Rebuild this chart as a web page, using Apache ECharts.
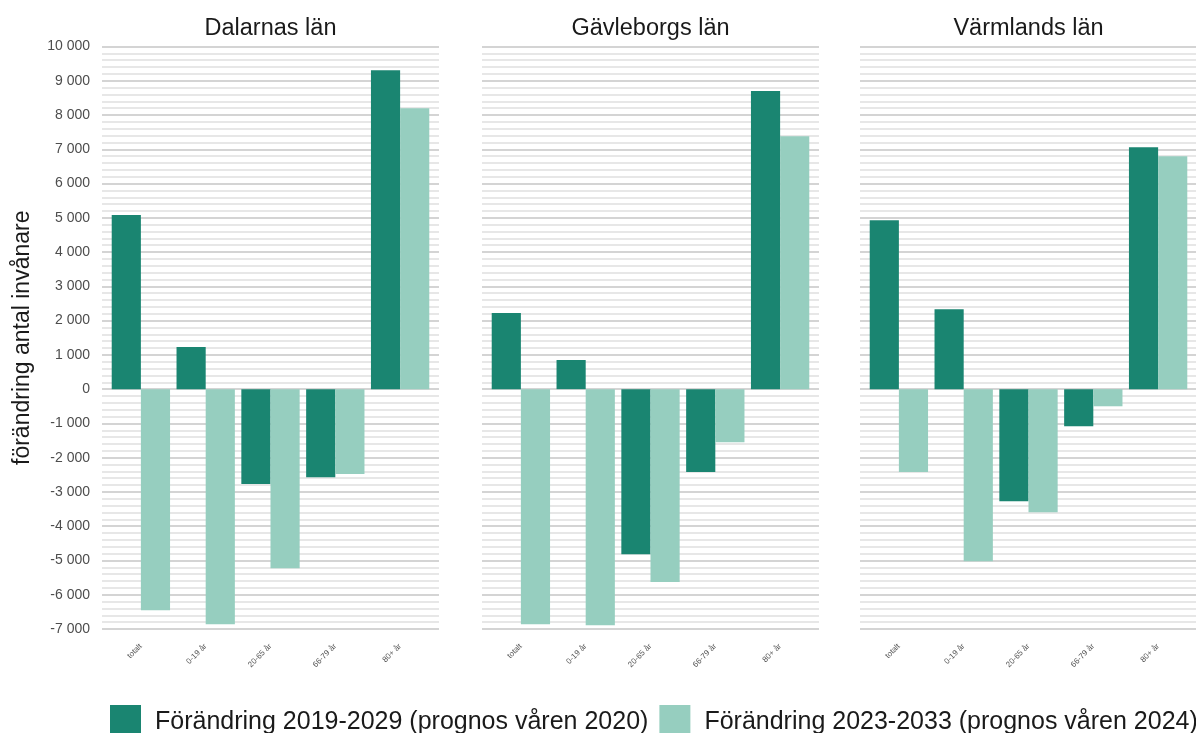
<!DOCTYPE html>
<html>
<head>
<meta charset="utf-8">
<script src="https://cdn.jsdelivr.net/npm/echarts@6/dist/echarts.min.js"></script>
<style>
  html, body { margin: 0; padding: 0; background: #fff; }
  #chart { width: 1196px; height: 733px; }
</style>
</head>
<body>
<div id="chart"></div>
<script>
const categories = ['totalt', '0-19 år', '20-65 år', '66-79 år', '80+ år'];
const regions = ['Dalarnas län', 'Gävleborgs län', 'Värmlands län'];
const seriesNames = ['Förändring 2019-2029 (prognos våren 2020)', 'Förändring 2023-2033 (prognos våren 2024)'];

// förändring 2019-2029, per län
const dalarna2020 = [5080, 1230, -2770, -2570, 9310];
const gavleborg2020 = [2220, 850, -4820, -2420, 8700];
const varmland2020 = [4930, 2335, -3270, -1080, 7060];
// förändring 2023-2033, per län
const dalarna2024 = [-6450, -6860, -5225, -2480, 8200];
const gavleborg2024 = [-6860, -6890, -5630, -1550, 7380];
const varmland2024 = [-2420, -5020, -3590, -500, 6800];

const yTicks = [-7000, 10000, 1000]; // min, max, step

const values2020 = [dalarna2020, gavleborg2020, varmland2020];
const values2024 = [dalarna2024, gavleborg2024, varmland2024];

const colors = ['#1a8571', '#96cebf'];
const font = 'Liberation Sans, Arial, sans-serif';

const panelLeft = [102, 482, 860];
const panelWidth = 337;
const gridTop = 46.5, gridHeight = 582.5;
const band = panelWidth / 5.2;

function fmt(v) {
  const s = String(Math.abs(v)).replace(/\B(?=(\d{3})+(?!\d))/g, ' ');
  return v < 0 ? '-' + s : s;
}

const grid = [], xAxis = [], yAxis = [], series = [], title = [];

panelLeft.forEach((left, i) => {
  // background grid (gridlines over full panel width)
  grid.push({ left: left, width: panelWidth, top: gridTop, height: gridHeight });
  xAxis.push({ gridIndex: i * 2, type: 'value', min: 0, max: 1, show: false });
  yAxis.push({
    gridIndex: i * 2, type: 'value', min: yTicks[0], max: yTicks[1], interval: yTicks[2],
    axisLine: { show: false }, axisTick: { show: false },
    axisLabel: { show: i === 0, fontSize: 14, color: '#4d4d4d', fontFamily: font, margin: 12, formatter: fmt },
    splitLine: { show: true, lineStyle: { color: '#d4d4d4', width: 2 } },
    minorTick: { show: false, splitNumber: 5 },
    minorSplitLine: { show: true, lineStyle: { color: '#e0e0e0', width: 1.5 } },
    name: i === 0 ? 'förändring antal invånare' : '',
    nameLocation: 'middle', nameGap: 68, nameRotate: 90,
    nameTextStyle: { fontSize: 23, color: '#1a1a1a', fontFamily: font }
  });

  // bar grid (discrete axis with 0.6 expansion on each side)
  grid.push({ left: left + band * 0.1, width: band * 5, top: gridTop, height: gridHeight });
  xAxis.push({
    gridIndex: i * 2 + 1, type: 'category', data: categories,
    axisLine: { show: false }, axisTick: { show: false },
    axisLabel: { rotate: 45, fontSize: 8, color: '#555', fontFamily: font, margin: 16, interval: 0 }
  });
  yAxis.push({
    gridIndex: i * 2 + 1, type: 'value', min: yTicks[0], max: yTicks[1], interval: yTicks[2],
    show: false, splitLine: { show: false }
  });

  [values2020[i], values2024[i]].forEach((vals, s) => {
    series.push({
      name: seriesNames[s], type: 'bar',
      xAxisIndex: i * 2 + 1, yAxisIndex: i * 2 + 1,
      data: vals, barWidth: '45%', barGap: '0%',
      itemStyle: { color: colors[s] }, silent: true
    });
  });

  title.push({
    text: regions[i], left: left + panelWidth / 2 - 5, top: 12, textAlign: 'center',
    textStyle: { fontSize: 23.5, fontWeight: 'normal', color: '#1a1a1a', fontFamily: font }
  });
});

const chart = echarts.init(document.getElementById('chart'), null, { renderer: 'canvas' });
chart.setOption({
  animation: false,
  title: title,
  legend: {
    data: seriesNames, left: 105, top: 700, width: 1150, padding: 5,
    itemWidth: 31, itemHeight: 34, itemGap: 11, icon: 'rect',
    textStyle: { fontSize: 25, color: '#1a1a1a', fontFamily: font, padding: [0, 0, 0, 9] }
  },
  grid: grid, xAxis: xAxis, yAxis: yAxis, series: series
});
</script>
</body>
</html>
